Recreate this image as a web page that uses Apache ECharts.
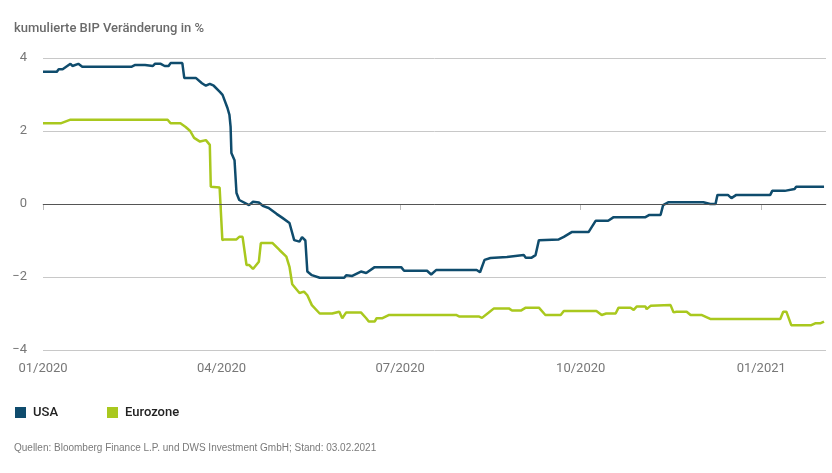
<!DOCTYPE html>
<html>
<head>
<meta charset="utf-8">
<script src="https://cdn.jsdelivr.net/npm/echarts@6/dist/echarts.min.js"></script>
<style>
  html, body { margin: 0; padding: 0; background: #fff; }
  #chart { width: 832px; height: 473px; }
</style>
</head>
<body>
<div id="chart"></div>
<script>
// days since 01.01.2020
const xTickDays = [0, 91, 182, 274, 366];
const xTickLabels = ['01/2020', '04/2020', '07/2020', '10/2020', '01/2021'];
const yTicks = [-4, -2, 0, 2, 4];

const usaDays = [0, 7, 8, 10, 14, 15, 18, 20, 45, 47, 52, 53, 56, 57, 60, 62, 64, 65, 71, 72, 78, 81, 83, 85, 86, 87, 90, 91.5, 94, 95, 95.6, 96, 97.6, 98.6, 100, 105, 107, 110, 112, 115, 119, 122, 125.6, 128, 130.7, 132, 133.7, 134.7, 137, 141, 153.5, 154.5, 157.6, 162, 164.7, 169, 182.5, 184, 195.7, 197.8, 200.3, 221, 222.7, 225, 228, 236.4, 245, 246, 249, 251, 252.7, 262.8, 265.4, 269.4, 278, 281.6, 288, 290.8, 307, 307.6, 309, 314.7, 316, 318.8, 336.5, 340, 341, 342.7, 343.7, 349, 350.8, 353.3, 370.6, 371.6, 378, 378.8, 383, 383.8, 398];
const usaValues = [3.62, 3.62, 3.69, 3.69, 3.84, 3.78, 3.84, 3.76, 3.76, 3.81, 3.81, 3.76, 3.78, 3.84, 3.84, 3.78, 3.78, 3.86, 3.86, 3.45, 3.45, 3.31, 3.24, 3.29, 3.27, 3.24, 3.08, 2.99, 2.63, 2.44, 2.11, 1.40, 1.20, 0.30, 0.11, -0.03, 0.06, 0.04, -0.05, -0.11, -0.27, -0.38, -0.52, -0.99, -1.03, -0.91, -1.00, -1.85, -1.95, -2.02, -2.02, -1.95, -1.97, -1.85, -1.89, -1.73, -1.73, -1.83, -1.83, -1.93, -1.81, -1.81, -1.87, -1.53, -1.48, -1.45, -1.40, -1.47, -1.47, -1.40, -0.99, -0.97, -0.90, -0.77, -0.77, -0.46, -0.46, -0.36, -0.36, -0.40, -0.30, -0.30, -0.03, 0.05, 0.05, 0.00, 0.05, 0.00, 0.25, 0.25, 0.16, 0.25, 0.25, 0.36, 0.36, 0.41, 0.41, 0.47, 0.47];

const euroDays = [0, 9, 14, 63.5, 65, 70, 72.7, 75, 77, 80, 83, 85, 85.5, 90, 91.4, 92.5, 98.6, 100, 101.7, 103.7, 105, 107, 110, 111, 117, 120.5, 124, 125.6, 127, 130.7, 133, 134.7, 137, 141, 147.4, 148.4, 151, 152.5, 154.5, 162, 164.7, 166, 169, 170, 173, 176.4, 210.5, 212, 222, 223.7, 227, 229.8, 237.4, 239, 243.5, 246, 252.7, 256, 263.8, 265.4, 282, 284.7, 287, 291.8, 293.3, 299.4, 301, 302.5, 307, 307.6, 309.6, 319.8, 321.3, 322.8, 328, 330, 335.5, 340, 375.7, 377.2, 378.8, 381.3, 391.5, 393.5, 396, 398];
const euroValues = [2.21, 2.21, 2.31, 2.31, 2.21, 2.21, 2.11, 2.00, 1.81, 1.71, 1.75, 1.62, 0.47, 0.45, -0.99, -0.97, -0.97, -0.90, -0.90, -1.67, -1.67, -1.78, -1.58, -1.07, -1.07, -1.26, -1.44, -1.72, -2.20, -2.44, -2.40, -2.50, -2.77, -3.00, -3.00, -2.95, -2.95, -3.13, -2.97, -2.97, -3.13, -3.22, -3.22, -3.13, -3.13, -3.04, -3.04, -3.08, -3.08, -3.12, -2.98, -2.86, -2.86, -2.92, -2.92, -2.84, -2.84, -3.04, -3.04, -2.93, -2.93, -3.04, -3.00, -3.00, -2.84, -2.84, -2.90, -2.81, -2.81, -2.88, -2.79, -2.77, -2.97, -2.95, -2.95, -3.04, -3.04, -3.15, -3.15, -2.95, -2.95, -3.32, -3.32, -3.27, -3.27, -3.22];

const seriesNames = ['USA', 'Eurozone'];
const seriesColors = ['#0f4c6d', '#a9c81e'];

function pairs(xs, ys) {
  return xs.map((d, i) => [d, ys[i]]);
}

let mychart = echarts.init(document.getElementById('chart'));
let option = {
  animation: false,
  textStyle: { fontFamily: 'Roboto' },
  title: [{
    text: 'kumulierte BIP Veränderung in %',
    left: 9, top: 17,
    textStyle: { fontSize: 13, fontWeight: 500, color: '#6a6a6a' }
  }, {
    text: 'Quellen: Bloomberg Finance L.P. und DWS Investment GmbH; Stand: 03.02.2021',
    left: 9, top: 438,
    textStyle: { fontSize: 10, fontWeight: 'normal', color: '#7a7a7a', fontFamily: 'Liberation Sans' }
  }],
  legend: {
    left: 10, top: 401,
    icon: 'rect',
    itemWidth: 11, itemHeight: 11,
    itemGap: 49,
    textStyle: { fontSize: 13, color: '#222', fontWeight: 500, padding: [0, 0, 0, 2] },
    data: seriesNames
  },
  grid: { left: 43, right: 6, top: 58, bottom: 123 },
  xAxis: {
    type: 'value',
    min: 0, max: 399,
    axisLine: { show: true, lineStyle: { color: '#bdbdbd', width: 1 } },
    axisTick: { show: true, customValues: xTickDays, length: 6, lineStyle: { color: '#bdbdbd' } },
    axisLabel: {
      customValues: xTickDays,
      margin: 12,
      fontSize: 13,
      color: '#777',
      formatter: v => xTickLabels[xTickDays.indexOf(v)]
    },
    splitLine: { show: false }
  },
  yAxis: {
    type: 'value',
    min: -4, max: 4, interval: 2,
    axisLine: { show: false },
    axisTick: { show: false },
    axisLabel: {
      fontSize: 13, color: '#777', margin: 16,
      formatter: v => yTicks.indexOf(v) >= 0 ? String(v).replace('-', '\u2212') : ''
    },
    splitLine: { show: true, lineStyle: { color: '#c8c8c8', width: 1 } }
  },
  series: [{
    name: seriesNames[0],
    type: 'line',
    data: pairs(usaDays, usaValues),
    symbol: 'none',
    z: 3,
    lineStyle: { color: seriesColors[0], width: 2.5 },
    itemStyle: { color: seriesColors[0] },
    markLine: {
      silent: true, symbol: 'none', label: { show: false },
      lineStyle: { color: '#555', width: 1, type: 'solid' },
      data: [{ yAxis: 0 }]
    }
  }, {
    name: seriesNames[1],
    type: 'line',
    data: pairs(euroDays, euroValues),
    symbol: 'none',
    z: 2,
    lineStyle: { color: seriesColors[1], width: 2.5 },
    itemStyle: { color: seriesColors[1] }
  }]
};
mychart.setOption(option);
</script>
</body>
</html>
